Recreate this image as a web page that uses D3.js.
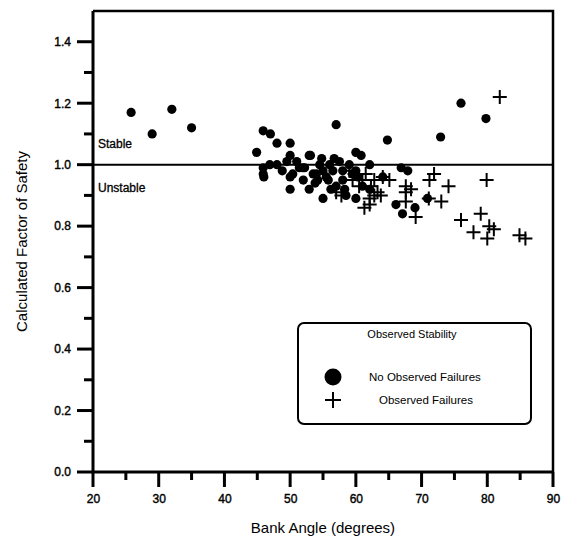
<!DOCTYPE html>
<html>
<head>
<meta charset="utf-8">
<script src="https://cdn.jsdelivr.net/npm/d3@7"></script>
<style>
  body { margin: 0; background: #fff; }
  text { font-family: Arial, "Liberation Sans", sans-serif; fill: #000; }
</style>
</head>
<body>
<svg id="chart" width="564" height="542"></svg>
<script>
// bank angle (deg) and calculated factor of safety, no observed failures
var stableAngle = [25.8, 29.0, 32.0, 35.0, 45.9, 47.0, 48.0, 50.0, 44.9, 45.9, 46.9, 48.0, 45.9, 46.0,
    50.0, 51.0, 51.4, 52.2, 50.4, 50.0, 50.0, 52.9, 52.9, 51.9, 54.5, 55.0, 53.5, 54.0, 54.2, 55.0,
    53.1, 56.7, 57.5, 56.5, 58.0, 58.0, 57.0, 56.2, 58.3, 58.5, 57.0, 60.0, 60.8, 62.1, 60.0, 60.3,
    62.1, 60.0, 64.8, 64.1, 66.9, 67.9, 66.1, 67.1, 69.0, 70.9, 72.9, 76.0, 79.8, 55.5, 56.0, 53.8,
    52.0, 55.8, 59.0, 59.5, 61.0, 54.8, 48.8, 49.5];
var stableFS = [1.17, 1.10, 1.18, 1.12, 1.11, 1.10, 1.07, 1.07, 1.04, 0.99, 1.00, 1.00, 0.97, 0.96,
    1.03, 1.01, 0.99, 0.99, 0.97, 0.96, 0.92, 1.03, 0.92, 0.99, 1.00, 0.98, 0.97, 0.97, 0.95, 0.89,
    1.03, 1.02, 1.01, 0.98, 0.98, 0.95, 0.93, 0.92, 0.92, 0.90, 1.13, 1.04, 1.03, 1.00, 0.98, 0.96,
    0.92, 0.89, 1.08, 0.96, 0.99, 0.98, 0.87, 0.84, 0.86, 0.89, 1.09, 1.20, 1.15, 0.96, 1.00, 0.94,
    0.95, 0.95, 1.00, 0.97, 0.93, 1.02, 0.98, 1.01];

// observed failures
var failAngle = [81.9, 71.9, 71.2, 74.1, 73.0, 71.1, 79.9, 76.0, 79.0, 80.3, 81.0, 77.9, 80.0, 84.9,
    85.8, 69.1, 67.6, 67.6, 68.4, 67.6, 65.1, 64.1, 62.8, 62.3, 63.3, 63.8, 61.3, 62.1, 62.1, 62.8,
    61.0, 61.5, 59.5, 59.8, 59.0, 57.0, 57.8, 60.5];
var failFS = [1.22, 0.97, 0.95, 0.93, 0.88, 0.89, 0.95, 0.82, 0.84, 0.80, 0.79, 0.78, 0.76, 0.77,
    0.76, 0.83, 0.93, 0.91, 0.92, 0.88, 0.95, 0.96, 0.95, 0.93, 0.91, 0.90, 0.86, 0.87, 0.89, 0.90,
    0.95, 0.97, 0.95, 0.97, 0.98, 0.91, 0.90, 0.93];

var xTicks = [20, 30, 40, 50, 60, 70, 80, 90];
var yTicks = [0.0, 0.2, 0.4, 0.6, 0.8, 1.0, 1.2, 1.4];
var xMinor = [25, 35, 45, 55, 65, 75, 85];
var yMinor = [0.1, 0.3, 0.5, 0.7, 0.9, 1.1, 1.3];

var margin = {left: 93, right: 11, top: 11, bottom: 70};
var svg = d3.select("#chart");
var W = 564, H = 542;

var x = d3.scaleLinear().domain([20, 90]).range([margin.left, W - margin.right]);
var y = d3.scaleLinear().domain([0, 1.5]).range([H - margin.bottom, margin.top]);

var stable = stableAngle.map(function (a, i) { return {a: a, fs: stableFS[i]}; });
var fails = failAngle.map(function (a, i) { return {a: a, fs: failFS[i]}; });

// frame top + right
svg.append("path")
    .attr("d", "M" + x(20) + "," + y(1.5) + "H" + x(90) + "V" + y(0))
    .attr("fill", "none").attr("stroke", "#000").attr("stroke-width", 2.5);

// tick labels from d3 axes
var xAxis = d3.axisBottom(x).tickValues(xTicks).tickSize(0).tickPadding(22).tickFormat(d3.format("d"));
var yAxis = d3.axisLeft(y).tickValues(yTicks).tickSize(0).tickPadding(22).tickFormat(d3.format(".1f"));
svg.append("g").attr("transform", "translate(0," + y(0) + ")").call(xAxis);
svg.append("g").attr("transform", "translate(" + x(20) + ",0)").call(yAxis);
svg.selectAll(".domain").remove();
svg.selectAll(".tick text")
    .style("font-size", "12px")
    .style("font-family", "Arial, 'Liberation Sans', sans-serif")
    .attr("stroke", "#000").attr("stroke-width", 0.4);

// tick marks (major outward 15-16px, minor 8-9px)
function xTickPath(len) {
    return function (d) { return "M" + x(d) + "," + y(0) + "V" + (y(0) + len); };
}
function yTickPath(len) {
    return function (d) { return "M" + x(20) + "," + y(d) + "H" + (x(20) - len); };
}
var tg = svg.append("g").attr("stroke", "#000").attr("stroke-width", 3);
tg.selectAll(".xt").data(xTicks).enter().append("path").attr("class", "xt").attr("d", xTickPath(15));
tg.selectAll(".xm").data(xMinor).enter().append("path").attr("class", "xm").attr("d", xTickPath(8));
tg.selectAll(".yt").data(yTicks).enter().append("path").attr("class", "yt").attr("d", yTickPath(16));
tg.selectAll(".ym").data(yMinor).enter().append("path").attr("class", "ym").attr("d", yTickPath(9));

svg.append("path").attr("d", "M" + x(20) + "," + y(1.5) + "V" + y(0) + "H" + x(90))
    .attr("fill", "none").attr("stroke", "#000").attr("stroke-width", 3);

// FS = 1 line
svg.append("path").attr("d", "M" + x(20) + "," + y(1) + "H" + x(90))
    .attr("stroke", "#000").attr("stroke-width", 2);

svg.append("text").attr("x", x(20) + 5).attr("y", y(1) - 17).style("font-size", "12px")
    .attr("stroke", "#000").attr("stroke-width", 0.3).text("Stable");
svg.append("text").attr("x", x(20) + 5).attr("y", y(1) + 27).style("font-size", "12px")
    .attr("stroke", "#000").attr("stroke-width", 0.3).text("Unstable");

// points
svg.selectAll(".dot").data(stable).enter().append("circle")
    .attr("class", "dot")
    .attr("cx", function (d) { return x(d.a); })
    .attr("cy", function (d) { return y(d.fs); })
    .attr("r", 4.6)
    .attr("fill", "#000");

var arm = 7;
svg.selectAll(".fail").data(fails).enter().append("path")
    .attr("class", "fail")
    .attr("d", function (d) {
        var cx = x(d.a), cy = y(d.fs);
        return "M" + (cx - arm) + "," + cy + "H" + (cx + arm) + "M" + cx + "," + (cy - arm) + "V" + (cy + arm);
    })
    .attr("stroke", "#000").attr("stroke-width", 2).attr("fill", "none");

// axis titles
svg.append("text").attr("x", (x(20) + x(90)) / 2).attr("y", 533)
    .attr("text-anchor", "middle").style("font-size", "15px").text("Bank Angle (degrees)");
svg.append("text").attr("transform", "translate(27," + y(0.75) + ") rotate(-90)")
    .attr("text-anchor", "middle").style("font-size", "15px").text("Calculated Factor of Safety");

// legend
var lg = svg.append("g").attr("transform", "translate(298,323)");
lg.append("rect").attr("width", 233).attr("height", 101).attr("rx", 6)
    .attr("fill", "#fff").attr("stroke", "#000").attr("stroke-width", 2);
lg.append("text").attr("x", 114).attr("y", 15).attr("text-anchor", "middle")
    .style("font-size", "11px").text("Observed Stability");
lg.append("circle").attr("cx", 35).attr("cy", 54).attr("r", 8.5).attr("fill", "#000");
lg.append("text").attr("x", 71).attr("y", 58).style("font-size", "11.5px").text("No Observed Failures");
lg.append("path").attr("d", "M27,77H43M35,69V85").attr("stroke", "#000").attr("stroke-width", 2);
lg.append("text").attr("x", 81).attr("y", 81).style("font-size", "11.5px").text("Observed Failures");
</script>
</body>
</html>
